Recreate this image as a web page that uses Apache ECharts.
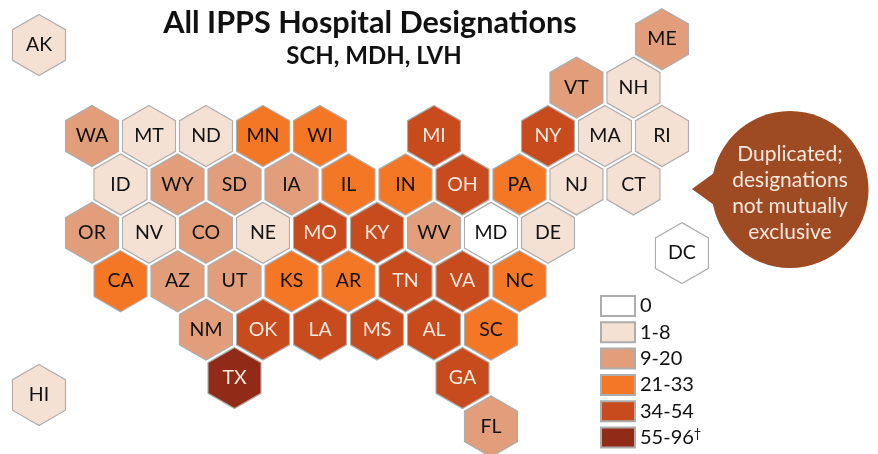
<!DOCTYPE html>
<html>
<head>
<meta charset="utf-8">
<title>All IPPS Hospital Designations</title>
<script src="https://cdn.jsdelivr.net/npm/echarts@6/dist/echarts.min.js"></script>
<style>
  html, body { margin: 0; padding: 0; background: #fff; }
  #chart { width: 878px; height: 454px; }
</style>
</head>
<body>
<div id="chart"></div>
<script>
// tile map data: state, column / row on the hex grid, index into binLabels
var stateCodes = ['ME', 'VT', 'NH',
  'WA', 'MT', 'ND', 'MN', 'WI', 'MI', 'NY', 'MA', 'RI',
  'ID', 'WY', 'SD', 'IA', 'IL', 'IN', 'OH', 'PA', 'NJ', 'CT',
  'OR', 'NV', 'CO', 'NE', 'MO', 'KY', 'WV', 'MD', 'DE',
  'CA', 'AZ', 'UT', 'KS', 'AR', 'TN', 'VA', 'NC',
  'NM', 'OK', 'LA', 'MS', 'AL', 'SC',
  'TX', 'GA', 'FL',
  'AK', 'HI', 'DC'];
var stateCols = [10, 8.5, 9.5,
  0, 1, 2, 3, 4, 6, 8, 9, 10,
  0.5, 1.5, 2.5, 3.5, 4.5, 5.5, 6.5, 7.5, 8.5, 9.5,
  0, 1, 2, 3, 4, 5, 6, 7, 8,
  0.5, 1.5, 2.5, 3.5, 4.5, 5.5, 6.5, 7.5,
  2, 3, 4, 5, 6, 7,
  2.5, 6.5, 7,
  -0.93, -0.93, 10.35];
var stateRows = [-2, -1, -1,
  0, 0, 0, 0, 0, 0, 0, 0, 0,
  1, 1, 1, 1, 1, 1, 1, 1, 1, 1,
  2, 2, 2, 2, 2, 2, 2, 2, 2,
  3, 3, 3, 3, 3, 3, 3, 3,
  4, 4, 4, 4, 4, 4,
  5, 5, 6,
  -1.88, 5.35, 2.42];
var stateBins = [2, 2, 1,
  2, 1, 1, 3, 3, 4, 4, 1, 1,
  1, 2, 2, 2, 3, 3, 4, 3, 1, 1,
  2, 1, 2, 1, 4, 4, 2, 0, 1,
  3, 2, 2, 3, 3, 4, 4, 3,
  2, 4, 4, 4, 4, 3,
  5, 4, 2,
  1, 1, 0];
var binLabels = ['0', '1-8', '9-20', '21-33', '34-54', '55-96'];
var binColors = ['#FFFFFF', '#F5E0D4', '#E29E7B', '#F47726', '#C84B1E', '#922A18'];
var binTextColors = ['#111', '#111', '#111', '#111', '#FBE9DD', '#FBE9DD'];
var calloutLines = ['Duplicated;', 'designations', 'not mutually', 'exclusive'];

var FONT = 'Lato, "Noto Sans", sans-serif';
var HEX_PATH = 'path://M0,-100 L86.6,-50 L86.6,50 L0,100 L-86.6,50 L-86.6,-50 Z';

var seriesList = binLabels.map(function(name, bin) {
  var points = [];
  stateCodes.forEach(function(code, i) {
    if (stateBins[i] === bin) points.push([stateCols[i], stateRows[i], code]);
  });
  return {
    name: name,
    type: 'scatter',
    symbol: HEX_PATH,
    symbolSize: [53, 61],
    data: points,
    itemStyle: { color: binColors[bin], borderColor: '#ADADAD', borderWidth: 1.2, opacity: 1 },
    label: {
      show: true,
      position: 'inside',
      formatter: function(p) { return p.data[2]; },
      color: binTextColors[bin],
      fontFamily: FONT,
      fontSize: 19.5
    },
    emphasis: { disabled: true }
  };
});

var chart = echarts.init(document.getElementById('chart'));
chart.setOption({
  animation: false,
  backgroundColor: '#fff',
  grid: { left: 0, right: 0, top: 0, bottom: 0 },
  xAxis: { type: 'value', min: -1.614, max: 13.79, show: false },
  yAxis: { type: 'value', min: -2.81, max: 6.57, inverse: true, show: false },
  title: [
    {
      text: 'All IPPS Hospital Designations',
      left: 370, top: 8, padding: 0, textAlign: 'center',
      textStyle: { fontFamily: FONT, fontSize: 30.6, fontWeight: 700, color: '#111' }
    },
    {
      text: 'SCH, MDH, LVH',
      left: 374, top: 44, padding: 0, textAlign: 'center',
      textStyle: { fontFamily: FONT, fontSize: 24, fontWeight: 700, color: '#111' }
    }
  ],
  legend: {
    orient: 'vertical',
    left: 600, top: 295, padding: 0,
    height: 200,
    itemWidth: 34, itemHeight: 20, itemGap: 4.3,
    icon: 'rect',
    selectedMode: false,
    data: binLabels,
    formatter: function(name) {
      return name === '55-96' ? name + '{sup|\u2020}' : name;
    },
    textStyle: {
      fontFamily: FONT, fontSize: 20, color: '#111', lineHeight: 20,
      rich: { sup: { fontSize: 13, verticalAlign: 'top', fontFamily: FONT, color: '#111', lineHeight: 20, padding: [0, 0, 6, 0] } }
    }
  },
  graphic: [
    {
      type: 'group',
      silent: true,
      children: [
        { type: 'polygon', shape: { points: [[692, 189], [725, 165], [725, 213]] }, style: { fill: '#9E4A23' } },
        { type: 'circle', shape: { cx: 790, cy: 189.5, r: 78.5 }, style: { fill: '#9E4A23' } },
        {
          type: 'text', x: 790, y: 193,
          style: {
            text: calloutLines.join('\n'), align: 'center', verticalAlign: 'middle',
            fill: '#FBE9DD', fontFamily: FONT, fontSize: 21, lineHeight: 26
          }
        }
      ]
    }
  ],
  series: seriesList
});
</script>
</body>
</html>
